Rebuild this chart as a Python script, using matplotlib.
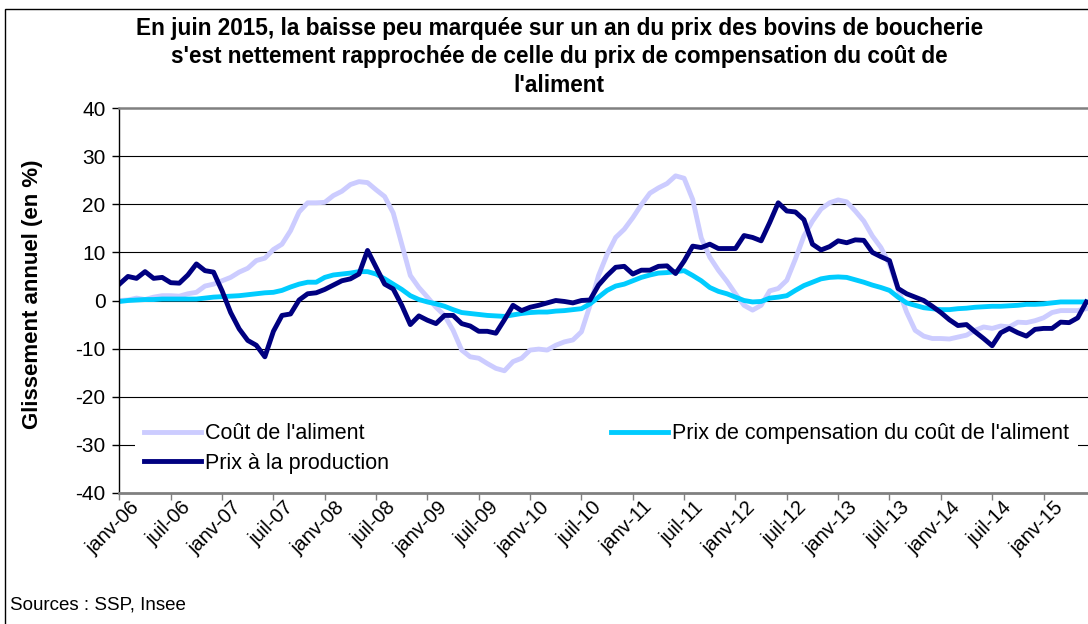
import numpy as np
import matplotlib.pyplot as plt
from matplotlib.patches import Rectangle
from matplotlib.transforms import ScaledTranslation

plt.rcParams['font.family'] = ['Liberation Sans', 'DejaVu Sans']
plt.rcParams['axes.unicode_minus'] = False

# glissements annuels mensuels, janv-06 .. juin-15 (en %)
cout_aliment = [
    0.0, 0.1, 0.5, 0.2, 0.7, 1.0, 1.0, 0.9, 1.4, 1.7, 3.0, 3.4,
    4.1, 4.8, 5.9, 6.7, 8.3, 8.8, 10.6, 11.7, 14.5, 18.4, 20.3,
    20.3, 20.4, 21.8, 22.7, 24.1, 24.7, 24.5, 23.0, 21.6, 18.2, 11.7, 5.2,
    2.7, 0.7, -1.4, -3.1, -6.2, -10.3, -11.7, -12.0, -13.1, -14.1, -14.6,
    -12.7, -12.0, -10.3, -10.1, -10.3, -9.3, -8.6, -8.2, -6.5, -1.0, 5.2, 9.6,
    13.1, 14.8, 17.2, 19.9, 22.3, 23.4, 24.3, 25.9, 25.4, 21.0, 13.0,
    9.0, 6.3, 4.0, 1.4, -1.0, -2.0, -1.0, 2.0, 2.5, 4.2, 8.6, 13.4,
    16.5, 19.0, 20.3, 20.9, 20.5, 18.6, 16.5, 13.4, 11.0, 7.5, 2.4,
    -2.4, -6.2, -7.4, -7.9, -7.9, -8.0, -7.6, -7.2, -6.2, -5.5, -5.8,
    -5.3, -5.5, -4.5, -4.6, -4.2, -3.6, -2.5, -2.1, -2.1, -2.1, -1.7,
]
prix_compensation = [
    -0.2, 0.0, 0.1, 0.2, 0.2, 0.3, 0.3, 0.3, 0.3, 0.3, 0.5, 0.7,
    0.8, 0.9, 1.0, 1.2, 1.4, 1.6, 1.7, 2.1, 2.8, 3.4, 3.8,
    3.8, 4.8, 5.3, 5.5, 5.7, 6.0, 6.0, 5.5, 4.5, 3.4, 2.3, 1.0,
    0.2, -0.3, -0.7, -1.2, -1.9, -2.5, -2.7, -2.9, -3.1, -3.2, -3.3,
    -3.0, -2.7, -2.5, -2.4, -2.4, -2.2, -2.1, -1.9, -1.7, -0.7, 0.7, 2.1,
    3.0, 3.4, 4.1, 4.8, 5.3, 5.7, 5.8, 6.0, 6.2, 5.2, 4.1,
    2.7, 1.9, 1.4, 0.7, 0.0, -0.3, -0.2, 0.5, 0.7, 1.0, 2.1, 3.1,
    3.8, 4.5, 4.8, 4.9, 4.8, 4.3, 3.8, 3.2, 2.7, 2.1, 0.7,
    -0.5, -1.0, -1.5, -1.7, -1.9, -1.9, -1.7, -1.6, -1.4, -1.3, -1.2,
    -1.2, -1.1, -1.0, -0.8, -0.8, -0.7, -0.5, -0.3, -0.3, -0.3, -0.3,
]
prix_production = [
    3.4, 5.0, 4.6, 6.0, 4.6, 4.8, 3.7, 3.6, 5.3, 7.6, 6.2, 5.9,
    2.0, -2.5, -5.9, -8.3, -9.3, -11.7, -6.4, -3.1, -2.8, 0.1, 1.4,
    1.6, 2.3, 3.2, 4.1, 4.5, 5.5, 10.4, 6.9, 3.4, 2.4, -1.0, -5.0,
    -3.2, -4.1, -4.8, -3.1, -3.1, -4.8, -5.3, -6.4, -6.4, -6.8, -4.0,
    -1.0, -2.1, -1.4, -1.0, -0.5, 0.0, -0.2, -0.5, 0.0, 0.1, 3.2, 5.2,
    6.9, 7.1, 5.5, 6.3, 6.3, 7.1, 7.2, 5.6, 8.2, 11.3, 11.0,
    11.7, 10.8, 10.8, 10.8, 13.5, 13.1, 12.4, 16.2, 20.3, 18.6, 18.4, 16.8,
    11.7, 10.5, 11.2, 12.4, 12.0, 12.6, 12.5, 10.0, 9.1, 8.3, 2.5,
    1.4, 0.7, 0.0, -1.2, -2.5, -4.0, -5.2, -5.0, -6.5, -7.9, -9.4,
    -6.7, -5.8, -6.7, -7.4, -6.0, -5.8, -5.8, -4.5, -4.6, -3.6, -0.3,
]
tick_labels = ['janv-06', 'juil-06', 'janv-07', 'juil-07', 'janv-08', 'juil-08',
               'janv-09', 'juil-09', 'janv-10', 'juil-10', 'janv-11', 'juil-11',
               'janv-12', 'juil-12', 'janv-13', 'juil-13', 'janv-14', 'juil-14',
               'janv-15']

mois = np.arange(len(cout_aliment))

fig = plt.figure(figsize=(10.88, 6.24), dpi=100)
ax = fig.add_axes([119.4 / 1088, 1 - 493 / 624, (1088 - 119.4) / 1088, 385 / 624])

for v in range(-30, 40, 10):
    ax.axhline(v, color='black', lw=0.8, zorder=0.5)

ax.plot(mois, cout_aliment, color='#ccccff', lw=3.5, label="Coût de l'aliment")
ax.plot(mois, prix_compensation, color='#00ccff', lw=3.5,
        label="Prix de compensation du coût de l'aliment")
ax.plot(mois, prix_production, color='#000080', lw=3.5, label='Prix à la production')

ax.set_xlim(0, 113.2)
ax.set_ylim(-40, 40)
ax.set_yticks(range(-40, 41, 10))
ax.set_xticks(range(0, 109, 6))
ax.set_xticklabels(tick_labels, rotation=45, ha='right', rotation_mode='anchor')
ax.tick_params(axis='y', labelsize=15, length=5, width=1, pad=5)
ax.tick_params(axis='x', labelsize=14.5, length=5, width=1, color='#808080', pad=4)

# decale les etiquettes de dates vers la droite et vers le haut
shift = ScaledTranslation(0.10, 0.08, fig.dpi_scale_trans)
for lab in ax.get_xticklabels():
    lab.set_transform(lab.get_transform() + shift)

ax.spines['right'].set_visible(False)
ax.spines['top'].set_color('#808080')
ax.spines['top'].set_linewidth(1.8)
ax.spines['bottom'].set_color('#808080')
ax.spines['bottom'].set_linewidth(2)
ax.spines['left'].set_linewidth(1)

h, l = ax.get_legend_handles_labels()
leg = ax.legend([h[0], h[2], h[1]], [l[0], l[2], l[1]], ncol=2,
                loc='upper left', bbox_to_anchor=(0.0161, 0.203), borderaxespad=0,
                fontsize=15.5, handlelength=2.65, handletextpad=0.2,
                columnspacing=10.3, labelspacing=0.39, borderpad=0.4,
                frameon=True, fancybox=False, framealpha=1, edgecolor='none')

titre = ['En juin 2015, la baisse peu marquée sur un an du prix des bovins de boucherie',
         "s'est nettement rapprochée de celle du prix de compensation du coût de",
         "l'aliment"]
for txt, ypix in zip(titre, [28, 56, 85]):
    fig.text(0.514, 1 - ypix / 624, txt, ha='center', va='center',
             fontsize=16.3, weight='bold')

fig.text(33 / 1088, 1 - 294 / 624, 'Glissement annuel (en %)', rotation=90,
         ha='center', va='center', fontsize=16, weight='bold')
fig.text(10 / 1088, 1 - 605 / 624, 'Sources : SSP, Insee', va='center', fontsize=13.5)

fig.patches.append(Rectangle((5 / 1088, -0.1), 1.2, 1.1 - 9 / 624, transform=fig.transFigure,
                             fill=False, edgecolor='black', lw=1))

fig.savefig('out.png', dpi=100)
